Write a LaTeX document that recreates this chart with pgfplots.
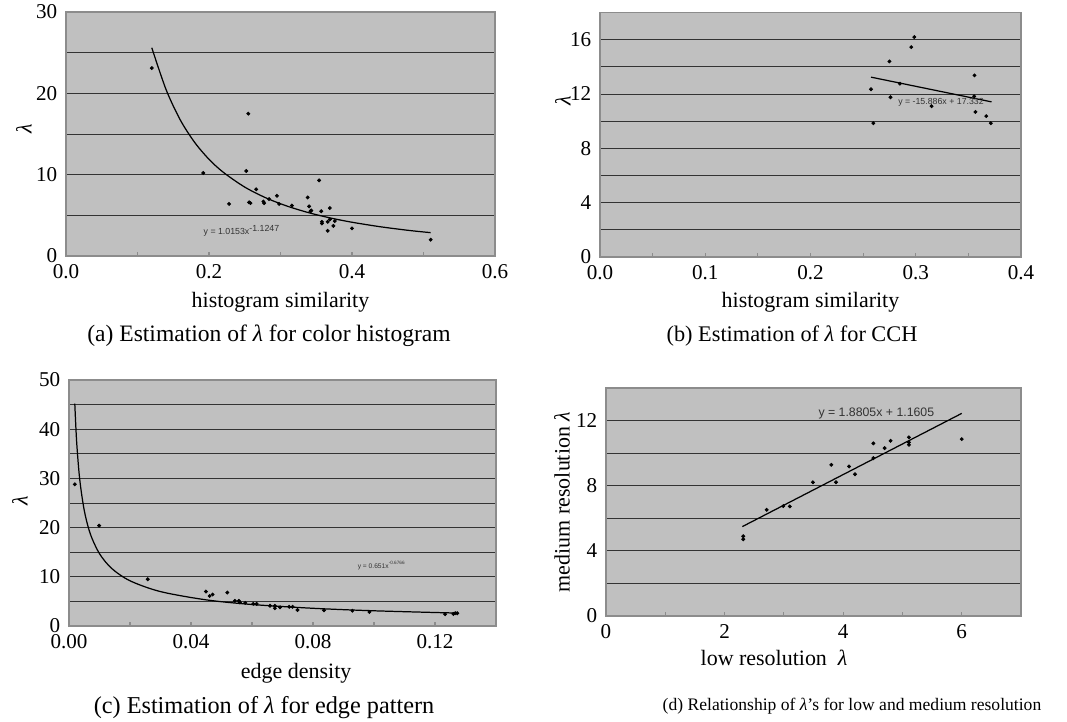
\documentclass[border=0pt]{standalone}
\usepackage{fontspec}
\setmainfont{Liberation Serif}
\newfontfamily\eqfont{Liberation Sans}
\usepackage{pgfplots}
\pgfplotsset{compat=1.18}
\definecolor{plotbg}{HTML}{C0C0C0}
\definecolor{frame}{HTML}{8C8C8C}

\pgfplotsset{
  panel/.style={
    scale only axis,
    axis background/.style={fill=plotbg},
    axis line style={draw=frame, line width=0.9pt},
    tick align=inside,
    xtick pos=bottom, ytick pos=left,
    major tick length=2.5pt,
    xtick style={draw=frame, line width=0.6pt},
    ytick style={draw=none},
    ymajorgrids,
    grid style={draw=black!80, line width=0.45pt},
    tick label style={font=\fontsize{12}{14}\selectfont},
    xticklabel style={yshift=-1.5pt},
    yticklabel style={xshift=-1.5pt},
    label style={font=\fontsize{12.5}{14}\selectfont},
    xlabel style={at={(axis description cs:0.5,0)}, anchor=center},
    ylabel style={anchor=center},
  },
  pts/.style={only marks, mark=*, mark size=0.9pt, black},
  fit/.style={black, line width=0.7pt, no marks},
}
\tikzset{eq/.style={text=black!80, inner sep=0pt}}

\begin{document}
\begin{tikzpicture}
\useasboundingbox (0,0) rectangle (213.4mm,144.4mm);

% (a) colour histogram
\begin{axis}[panel, at={(13.2mm,93.2mm)}, anchor=south west,
  width=85.8mm, height=48.8mm,
  xmin=0, xmax=0.6, ymin=0, ymax=30,
  xtick={0,0.1,0.2,0.3,0.4,0.5,0.6}, xticklabels={0.0,,0.2,,0.4,,0.6},
  ytick={0,5,10,15,20,25,30}, yticklabels={0,,10,,20,,30},
  xlabel={histogram similarity}, ylabel={\textit{λ}},
  xlabel style={yshift=-9.2mm},
  ylabel style={at={(axis description cs:-0.098,0.52)}}]
\addplot[pts] coordinates {
  (0.120,23.1) (0.255,17.5) (0.192,10.2) (0.252,10.45) (0.228,6.4)
  (0.266,8.2) (0.256,6.6) (0.258,6.5) (0.276,6.7) (0.277,6.5)
  (0.284,7.0) (0.295,7.4) (0.298,6.4) (0.316,6.2) (0.338,7.2)
  (0.354,9.3) (0.340,6.1) (0.342,5.5) (0.343,5.6) (0.357,5.5)
  (0.369,5.9) (0.358,4.2) (0.358,4.0) (0.366,4.2) (0.369,4.5)
  (0.376,4.3) (0.374,3.7) (0.366,3.1) (0.400,3.4) (0.510,2.0)
};
\addplot[fit, smooth] coordinates {
  (0.12,25.6) (0.14,20.45) (0.16,16.7) (0.18,13.96) (0.20,11.89)
  (0.22,10.29) (0.25,8.47) (0.28,7.13) (0.31,6.11) (0.34,5.31)
  (0.37,4.67) (0.40,4.15) (0.44,3.59) (0.48,3.14) (0.51,2.87)
};
\node[eq, font=\eqfont\fontsize{5}{6}\selectfont] at (axis cs:0.246,3.07) {y = 1.0153x\textsuperscript{-1.1247}};
\end{axis}

% (b) CCH
\begin{axis}[panel, at={(120mm,93mm)}, anchor=south west,
  width=84.2mm, height=48.9mm,
  xmin=0, xmax=0.4, ymin=0, ymax=18,
  xtick={0,0.05,0.1,0.15,0.2,0.25,0.3,0.35,0.4}, xticklabels={0.0,,0.1,,0.2,,0.3,,0.4},
  ytick={0,2,4,6,8,10,12,14,16,18}, yticklabels={0,,4,,8,,12,,16,},
  xlabel={histogram similarity}, ylabel={\textit{λ}},
  xlabel style={yshift=-9mm},
  ylabel style={at={(axis description cs:-0.088,0.64)}}]
\addplot[pts] coordinates {
  (0.2575,12.35) (0.2597,9.85) (0.275,14.4) (0.276,11.76) (0.285,12.76)
  (0.2957,15.45) (0.2986,16.19) (0.315,11.1) (0.3558,13.37) (0.3555,11.83)
  (0.3567,10.68) (0.367,10.37) (0.3713,9.85)
};
\addplot[fit] coordinates {(0.2575,13.24) (0.372,11.42)};
\node[eq, font=\eqfont\fontsize{5}{6}\selectfont] at (axis cs:0.324,11.42) {y = -15.886x + 17.332};
\end{axis}

% (c) edge pattern
\begin{axis}[panel, at={(13.8mm,19.2mm)}, anchor=south west,
  width=85.4mm, height=49.2mm,
  xmin=0, xmax=0.14, ymin=0, ymax=50,
  xtick={0,0.02,0.04,0.06,0.08,0.1,0.12,0.14}, xticklabels={0.00,,0.04,,0.08,,0.12,},
  ytick={0,5,10,15,20,25,30,35,40,45,50}, yticklabels={0,,10,,20,,30,,40,,50},
  xlabel={edge density}, ylabel={\textit{λ}},
  xlabel style={at={(axis description cs:0.532,0)}, yshift=-9.4mm},
  ylabel style={at={(axis description cs:-0.115,0.51)}}]
\addplot[pts] coordinates {
  (0.0019,28.8) (0.0099,20.4) (0.0258,9.5) (0.0449,7.0) (0.0461,6.1)
  (0.0471,6.4) (0.0519,6.8) (0.0544,5.1) (0.0557,5.1) (0.0560,4.8)
  (0.0578,4.7) (0.0604,4.5) (0.0615,4.5) (0.0659,4.1) (0.0675,4.1)
  (0.0675,3.6) (0.0692,3.8) (0.0722,3.9) (0.0733,3.9) (0.0749,3.25)
  (0.0836,3.2) (0.0929,3.1) (0.0985,2.85) (0.1233,2.4) (0.1260,2.45)
  (0.1266,2.6) (0.1273,2.6)
};
\addplot[fit, smooth] coordinates {
  (0.0019,45.2) (0.0025,37.5) (0.0035,29.9) (0.005,23.5) (0.007,18.7)
  (0.010,14.7) (0.014,11.7) (0.02,9.19) (0.03,6.99) (0.045,5.31)
  (0.06,4.37) (0.08,3.60) (0.10,3.09) (0.127,2.63)
};
\node[eq, font=\eqfont\fontsize{3.8}{4.5}\selectfont] at (axis cs:0.1025,12.3) {y = 0.651x\textsuperscript{-0.6766}};
\end{axis}

% (d) low vs medium resolution
\begin{axis}[panel, at={(121.2mm,21.2mm)}, anchor=south west,
  width=83mm, height=45.6mm,
  xmin=0, xmax=7, ymin=0, ymax=14,
  xtick={0,1,2,3,4,5,6,7}, xticklabels={0,,2,,4,,6,},
  ytick={0,2,4,6,8,10,12,14}, yticklabels={0,,4,,8,,12,},
  xlabel={low resolution~~\textit{λ}}, ylabel={medium resolution \textit{λ}},
  xlabel style={at={(axis description cs:0.405,0)}, yshift=-8.4mm},
  ylabel style={at={(axis description cs:-0.106,0.5)}}]
\addplot[pts] coordinates {
  (2.315,4.90) (2.315,4.71) (2.71,6.52) (2.99,6.75) (3.10,6.73)
  (3.49,8.21) (3.80,9.28) (3.88,8.21) (4.10,9.18) (4.20,8.70)
  (4.51,10.60) (4.51,9.69) (4.70,10.31) (4.80,10.76) (5.11,10.97)
  (5.11,10.66) (5.11,10.51) (6.00,10.86)
};
\addplot[fit] coordinates {(2.3,5.49) (6.0,12.44)};
\node[eq, font=\eqfont\fontsize{7}{8}\selectfont] at (axis cs:4.56,12.45) {y = 1.8805x + 1.1605};
\end{axis}

\node[font=\fontsize{13.4}{15}\selectfont] at (53.8mm,77.2mm) {(a) Estimation of \textit{λ} for color histogram};
\node[font=\fontsize{12.7}{15}\selectfont] at (158.4mm,77.2mm) {(b) Estimation of \textit{λ} for CCH};
\node[font=\fontsize{13.8}{15}\selectfont] at (52.8mm,2.8mm) {(c) Estimation of \textit{λ} for edge pattern};
\node[font=\fontsize{10}{12}\selectfont] at (170.4mm,3.2mm) {(d) Relationship of \textit{λ}’s for low and medium resolution};
\end{tikzpicture}
\end{document}
